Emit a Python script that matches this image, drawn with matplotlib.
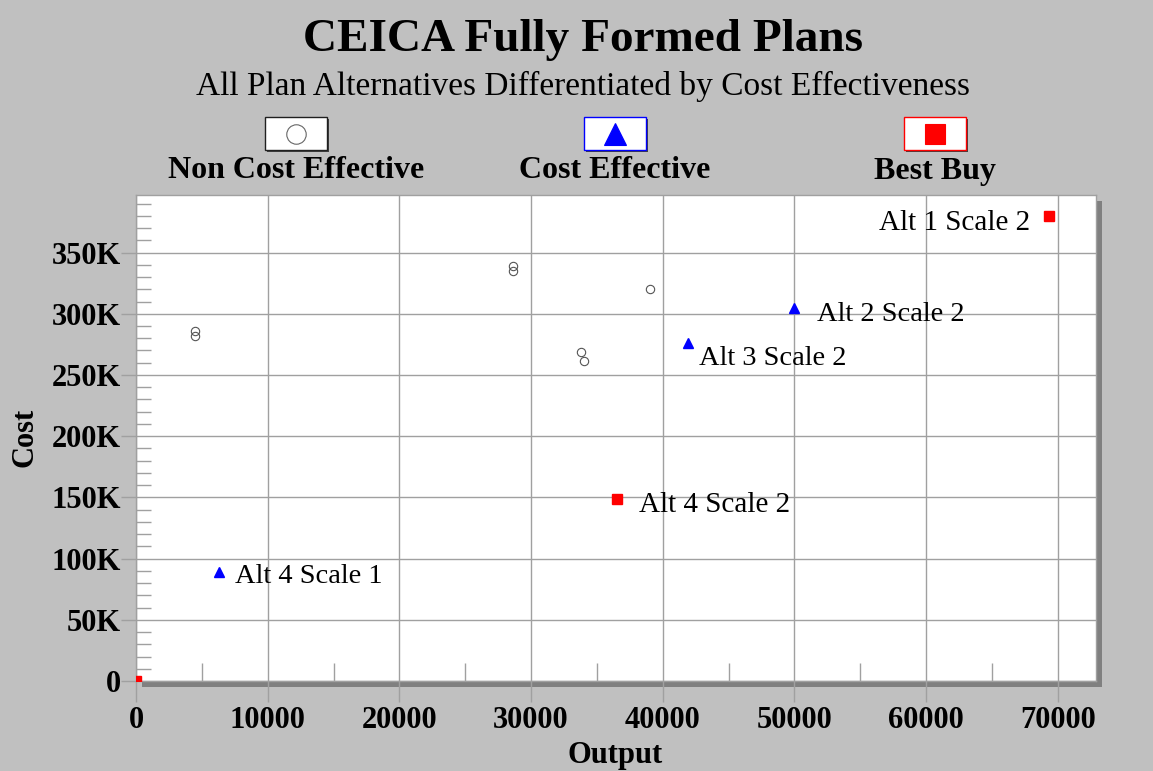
import matplotlib.pyplot as plt
from matplotlib.patches import Rectangle
from matplotlib.lines import Line2D
from matplotlib.ticker import MultipleLocator, FuncFormatter

W, H = 1153, 771

# data
non_ce_output = [4500, 4500, 28650, 28650, 39030, 33760, 33990]
non_ce_cost = [286000, 282000, 339000, 335000, 320500, 268500, 261000]

ce_names = ["Alt 4 Scale 1", "Alt 3 Scale 2", "Alt 2 Scale 2"]
ce_output = [6300, 41900, 49950]
ce_cost = [89000, 276000, 305000]

bb_names = ["", "Alt 4 Scale 2", "Alt 1 Scale 2"]
bb_output = [0, 36500, 69300]
bb_cost = [0, 149000, 380000]

legend_labels = ["Non Cost Effective", "Cost Effective", "Best Buy"]

plt.rcParams["font.family"] = ["Liberation Serif", "DejaVu Serif"]

BG = "#c0c0c0"
GRID = "#a0a0a0"
SHADOW = "#808080"


def fx(px):
  return px / W


def fy(py):
  return 1 - py / H


fig = plt.figure(figsize=(W / 100, H / 100), dpi=100, facecolor=BG)

left, right, top, bottom = 136, 1096, 195, 681
ax_rect = [fx(left), fy(bottom), fx(right - left), (bottom - top) / H]

# drop shadow of the plot area
fig.patches.append(Rectangle((fx(left + 6), fy(bottom + 6)), fx(right - left), (bottom - top) / H,
                             transform=fig.transFigure, facecolor=SHADOW, edgecolor="none", zorder=0))

ax = fig.add_axes(ax_rect, facecolor="white", zorder=1)
ax.set_xlim(0, 72900)
ax.set_ylim(0, 397000)

ax.xaxis.set_major_locator(MultipleLocator(10000))
ax.xaxis.set_minor_locator(MultipleLocator(5000))
ax.yaxis.set_major_locator(MultipleLocator(50000))
ax.yaxis.set_minor_locator(MultipleLocator(10000))
ax.yaxis.set_major_formatter(FuncFormatter(lambda v, p: "0" if v == 0 else f"{int(v / 1000)}K"))

ax.grid(True, which="major", color=GRID, lw=1)
ax.set_axisbelow(True)
ax.tick_params(which="major", direction="out", color=GRID, width=1)
ax.tick_params(axis="x", which="major", length=15, pad=3, labelsize=22)
ax.tick_params(axis="y", which="major", length=11, pad=0, labelsize=22)
ax.tick_params(axis="x", which="minor", direction="in", length=13, color=GRID, width=1)
ax.tick_params(axis="y", which="minor", direction="in", length=11, color=GRID, width=1)
for lab in ax.get_xticklabels() + ax.get_yticklabels():
  lab.set_fontweight("bold")
for s in ax.spines.values():
  s.set_color(GRID)
  s.set_linewidth(1)

ax.plot(non_ce_output, non_ce_cost, "o", ms=6, mfc="none", mec="#555555", mew=0.8, zorder=3)
ax.plot(ce_output, ce_cost, "^", ms=7, color="#0000ff", mec="#0000ff", zorder=3)
ax.plot(bb_output, bb_cost, "s", ms=6.5, color="#ff0000", mec="#ff0000", zorder=3)

ce_offsets = [(16, -4), (11, -15), (23, -7)]
for name, x, y, off in zip(ce_names, ce_output, ce_cost, ce_offsets):
  ax.annotate(name, (x, y), xytext=off, textcoords="offset pixels",
              ha="left", va="center", fontsize=20.5)

bb_offsets = [(0, 0), (22, -6), (-18, -7)]
bb_ha = ["left", "left", "right"]
for name, x, y, off, ha in zip(bb_names, bb_output, bb_cost, bb_offsets, bb_ha):
  if name:
    ax.annotate(name, (x, y), xytext=off, textcoords="offset pixels",
                ha=ha, va="center", fontsize=21)

# titles and axis labels
fig.text(fx(583), fy(40), "CEICA Fully Formed Plans", ha="center", va="center",
         fontsize=34, fontweight="bold")
fig.text(fx(583), fy(86), "All Plan Alternatives Differentiated by Cost Effectiveness",
         ha="center", va="center", fontsize=24)
fig.text(fx(615), fy(755), "Output", ha="center", va="center", fontsize=22, fontweight="bold")
fig.text(fx(25), fy(437), "Cost", ha="center", va="center", rotation=90, fontsize=22,
         fontweight="bold")

# custom legend boxes
box_cx = [296, 615, 935]
box_edge = ["#202020", "#0000ff", "#ff0000"]
box_marker = ["o", "^", "s"]
box_mfc = ["white", "#0000ff", "#ff0000"]
box_mec = ["#666666", "#0000ff", "#ff0000"]
box_ms = [14, 16, 14]
bw, bh = 62, 33
for cx, ec, mk, mfc, mec, ms, lab in zip(box_cx, box_edge, box_marker, box_mfc, box_mec, box_ms, legend_labels):
  x0, y0 = cx - bw / 2, 117
  fig.patches.append(Rectangle((fx(x0 + 2), fy(y0 + bh + 2)), fx(bw), bh / H,
                               transform=fig.transFigure, facecolor="#404040", edgecolor="none", zorder=2))
  fig.patches.append(Rectangle((fx(x0), fy(y0 + bh)), fx(bw), bh / H,
                               transform=fig.transFigure, facecolor="white", edgecolor=ec, lw=1, zorder=3))
  fig.add_artist(Line2D([fx(cx)], [fy(y0 + bh / 2)], marker=mk, ms=ms, mfc=mfc, mec=mec, mew=0.8,
                        transform=fig.transFigure, zorder=4))
  fig.text(fx(cx), fy(171), lab, ha="center", va="center", fontsize=23, fontweight="bold")

fig.savefig("out.png", dpi=100, facecolor=BG)
